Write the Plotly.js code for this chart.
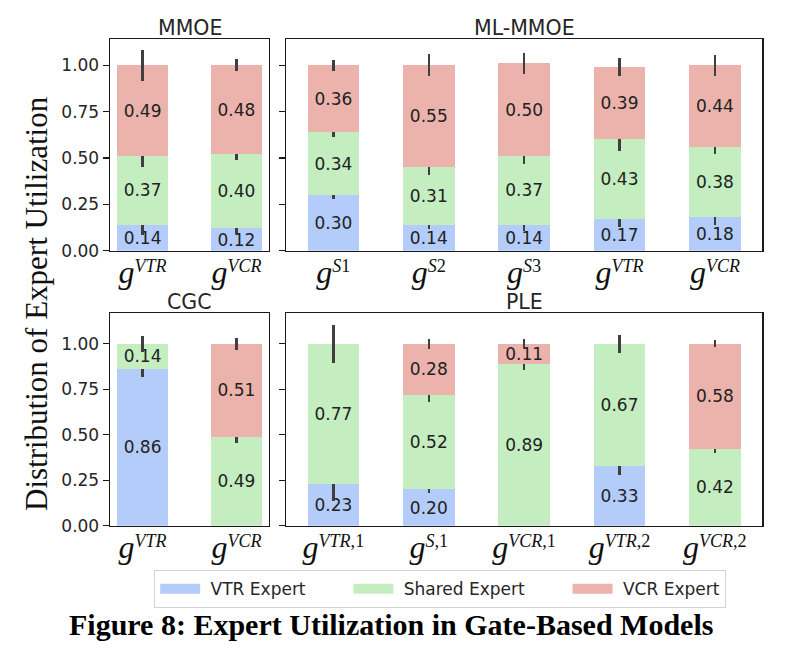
<!DOCTYPE html>
<html>
<head>
<meta charset="utf-8">
<script src="https://cdn.plot.ly/plotly-3.0.1.min.js"></script>
<style>html,body{margin:0;padding:0;background:#fff;}#chart{width:788px;height:649px;}</style>
</head>
<body>
<div id="chart"></div>
<script>
// ---------- data ----------
const seriesNames = ['VTR Expert', 'Shared Expert', 'VCR Expert'];
const panelTitles = ['MMOE', 'ML-MMOE', 'CGC', 'PLE'];

const mmoeGates = ['VTR', 'VCR'];
const mmoeVTR    = [0.14, 0.12];
const mmoeShared = [0.37, 0.40];
const mmoeVCR    = [0.49, 0.48];
const mmoeErrVTR    = [0.058, 0.030];
const mmoeErrShared = [0.058, 0.030];
const mmoeErrVCR    = [0.085, 0.033];

const mlGates = ['S1', 'S2', 'S3', 'VTR', 'VCR'];
const mlVTR    = [0.30, 0.14, 0.14, 0.17, 0.18];
const mlShared = [0.34, 0.31, 0.37, 0.43, 0.38];
const mlVCR    = [0.36, 0.55, 0.50, 0.39, 0.44];
const mlErrVTR    = [0.020, 0.024, 0.032, 0.042, 0.042];
const mlErrShared = [0.025, 0.040, 0.045, 0.063, 0.039];
const mlErrVCR    = [0.030, 0.060, 0.057, 0.048, 0.056];

const cgcGates = ['VTR', 'VCR'];
const cgcVTR    = [0.86, 0.00];
const cgcShared = [0.14, 0.49];
const cgcVCR    = [0.00, 0.51];
const cgcErrVTR    = [0.042, 0.000];
const cgcErrShared = [0.043, 0.034];
const cgcErrVCR    = [0.000, 0.032];

const pleGates = ['VTR,1', 'S,1', 'VCR,1', 'VTR,2', 'VCR,2'];
const pleVTR    = [0.23, 0.20, 0.00, 0.33, 0.00];
const pleShared = [0.77, 0.52, 0.89, 0.67, 0.42];
const pleVCR    = [0.00, 0.28, 0.11, 0.00, 0.58];
const pleErrVTR    = [0.094, 0.020, 0.000, 0.049, 0.000];
const pleErrShared = [0.105, 0.040, 0.033, 0.050, 0.020];
const pleErrVCR    = [0.000, 0.028, 0.025, 0.000, 0.020];

const yTickVals = [0, 0.25, 0.5, 0.75, 1.0];

// ---------- style ----------
const colors = ['#b4ccf9', '#c4eec0', '#ebb3ac'];
const W = 788, H = 649;
const px2x = p => p / W;
const px2y = p => (H - p) / H;

const colDom = [[px2x(110), px2x(269)], [px2x(286), px2x(762.3)]];
const rowDom = [[px2y(250.7), px2y(39.3)], [px2y(525.7), px2y(313.3)]];

function gateLabel(s) {
  const sup = s.replace(/[A-Z]+/g, m => '<span style="font-style:italic;font-size:18px">' + m + '</span>');
  return '<span style="font-style:italic;font-size:32px">g</span><sup>' + sup + '</sup>';
}

const panels = [
  {gates: mmoeGates, vals: [mmoeVTR, mmoeShared, mmoeVCR], errs: [mmoeErrVTR, mmoeErrShared, mmoeErrVCR], ax: '', col: 0, row: 0, yr: 1.14},
  {gates: mlGates, vals: [mlVTR, mlShared, mlVCR], errs: [mlErrVTR, mlErrShared, mlErrVCR], ax: '2', col: 1, row: 0, yr: 1.14},
  {gates: cgcGates, vals: [cgcVTR, cgcShared, cgcVCR], errs: [cgcErrVTR, cgcErrShared, cgcErrVCR], ax: '3', col: 0, row: 1, yr: 1.167},
  {gates: pleGates, vals: [pleVTR, pleShared, pleVCR], errs: [pleErrVTR, pleErrShared, pleErrVCR], ax: '4', col: 1, row: 1, yr: 1.167}
];

const traces = [];
const layout = {
  width: W, height: H,
  margin: {l: 0, r: 0, t: 0, b: 0},
  paper_bgcolor: '#fff', plot_bgcolor: '#fff',
  barmode: 'stack',
  showlegend: true,
  hovermode: false,
  legend: {
    orientation: 'h', x: px2x(440), xanchor: 'center', y: px2y(570), yanchor: 'top',
    bordercolor: '#d4d4d4', borderwidth: 1.2, bgcolor: '#fff',
    font: {family: 'DejaVu Sans', size: 17, color: '#262626'},
    itemwidth: 40, traceorder: 'normal'
  },
  annotations: [],
  font: {family: 'DejaVu Sans', color: '#262626'}
};

panels.forEach((p, pi) => {
  const cats = p.gates.map(gateLabel);
  const xa = 'x' + p.ax, ya = 'y' + p.ax;
  for (let s = 0; s < 3; s++) {
    traces.push({
      type: 'bar', x: cats, y: p.vals[s], xaxis: xa, yaxis: ya,
      width: 0.54,
      marker: {color: colors[s], line: {width: 0}},
      text: p.vals[s].map(v => v > 0 ? v.toFixed(2) : ''),
      textposition: 'inside', insidetextanchor: 'middle', textangle: 0,
      constraintext: 'none',
      textfont: {family: 'DejaVu Sans', size: 17, color: '#222'},
      error_y: {type: 'data', array: p.errs[s], visible: true, color: '#3f3f3f', thickness: 2.4, width: 0},
      showlegend: false, name: seriesNames[s], cliponaxis: false
    });
  }
  const n = p.gates.length;
  const lo = -0.27 - 0.05 * (n - 1 + 0.54);
  const hi = n - 1 + 0.27 + 0.05 * (n - 1 + 0.54);
  layout['xaxis' + p.ax] = {
    domain: colDom[p.col], anchor: ya, type: 'category', range: [lo, hi],
    showline: true, mirror: true, linecolor: '#1a1a1a', linewidth: 1.4,
    ticks: '', showgrid: false, zeroline: false, fixedrange: true,
    tickfont: {family: 'Liberation Serif', size: 26, color: '#111'},
    ticklabelstandoff: 0
  };
  layout['yaxis' + p.ax] = {
    domain: rowDom[p.row], anchor: xa, range: [0, p.yr],
    tickvals: yTickVals, tickformat: '.2f',
    showticklabels: p.col === 0,
    ticks: 'outside', ticklen: 6, tickwidth: 1.3, tickcolor: '#1a1a1a',
    showline: true, mirror: true, linecolor: '#1a1a1a', linewidth: 1.4,
    showgrid: false, zeroline: false, fixedrange: true,
    tickfont: {family: 'DejaVu Sans', size: 17, color: '#262626'}
  };
  layout.annotations.push({
    text: panelTitles[pi], xref: 'paper', yref: 'paper',
    x: (colDom[p.col][0] + colDom[p.col][1]) / 2, y: rowDom[p.row][1],
    xanchor: 'center', yanchor: 'bottom', yshift: -3, showarrow: false,
    font: {family: 'DejaVu Sans', size: 20.5, color: '#262626'}
  });
});

// legend-only swatches (names padded with no-break spaces for matplotlib-like spacing)
const NB = '\u00a0';
for (let s = 0; s < 3; s++) {
  const pad = s < 2 ? NB.repeat(7) : '';
  traces.push({
    type: 'scatter', mode: 'lines', x: [null], y: [null], xaxis: 'x', yaxis: 'y',
    line: {color: colors[s], width: 12}, name: NB + seriesNames[s] + pad, showlegend: true
  });
}

layout.annotations.push({
  text: 'Distribution of Expert Utilization', xref: 'paper', yref: 'paper',
  x: px2x(36), y: px2y(304), xanchor: 'center', yanchor: 'middle', textangle: -90,
  showarrow: false, font: {family: 'Liberation Serif', size: 31, color: '#111'}
});
layout.annotations.push({
  text: '<b>Figure 8: Expert Utilization in Gate-Based Models</b>', xref: 'paper', yref: 'paper',
  x: px2x(391), y: px2y(624), xanchor: 'center', yanchor: 'middle',
  showarrow: false, font: {family: 'Liberation Serif', size: 30, color: '#000'}
});

Plotly.newPlot('chart', traces, layout, {displayModeBar: false, staticPlot: true});
</script>
</body>
</html>
